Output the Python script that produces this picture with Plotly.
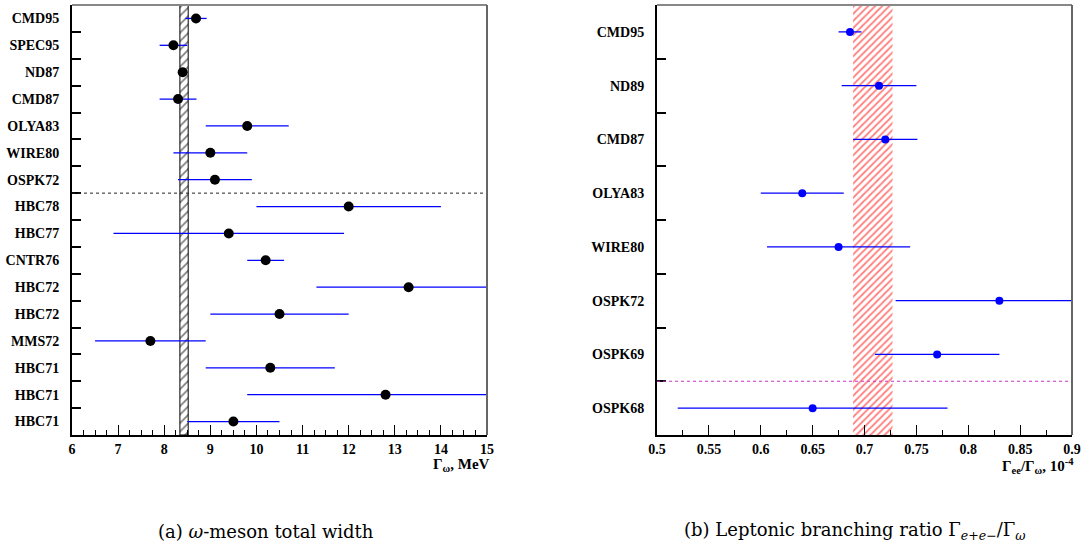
import plotly.graph_objects as go

# ---------------- data ----------------
left_labels = ["CMD95", "SPEC95", "ND87", "CMD87", "OLYA83", "WIRE80", "OSPK72",
               "HBC78", "HBC77", "CNTR76", "HBC72", "HBC72", "MMS72",
               "HBC71", "HBC71", "HBC71"]
left_values = [8.69, 8.2, 8.4, 8.3, 9.8, 9.0, 9.1, 12.0, 9.4, 10.2, 13.3, 10.5, 7.7, 10.3, 12.8, 9.5]
left_errors = [0.23, 0.3, 0.1, 0.4, 0.9, 0.8, 0.8, 2.0, 2.5, 0.4, 2.0, 1.5, 1.2, 1.4, 3.0, 1.0]
left_band = [8.34, 8.52]          # world average band (MeV)
left_separator_after = 6          # dashed line after OSPK72

right_labels = ["CMD95", "ND89", "CMD87", "OLYA83", "WIRE80", "OSPK72", "OSPK69", "OSPK68"]
right_values = [0.686, 0.714, 0.72, 0.64, 0.675, 0.83, 0.77, 0.65]
right_errors = [0.011, 0.036, 0.031, 0.04, 0.069, 0.1, 0.06, 0.13]
right_band = [0.689, 0.727]
right_separator_after = 6         # dashed line after OSPK69

W, H = 1081, 546
def px_x(p): return p / W
def px_y(p): return 1 - p / H

SERIF = "'Liberation Serif', 'Times New Roman', serif"

fig = go.Figure()

nL = len(left_labels)
nR = len(right_labels)
yL = list(range(nL))
yR = list(range(nR))

# bands
fig.add_trace(go.Scatter(
    x=[left_band[0], left_band[1], left_band[1], left_band[0], left_band[0]],
    y=[-0.5, -0.5, nL - 0.5, nL - 0.5, -0.5],
    fill="toself", mode="lines",
    line=dict(color="black", width=1),
    fillcolor="white",
    fillpattern=dict(shape="/", fgcolor="black", bgcolor="white", size=6, solidity=0.3),
    xaxis="x", yaxis="y", showlegend=False, hoverinfo="skip"))
fig.add_trace(go.Scatter(
    x=[right_band[0], right_band[1], right_band[1], right_band[0], right_band[0]],
    y=[-0.5, -0.5, nR - 0.5, nR - 0.5, -0.5],
    fill="toself", mode="lines",
    line=dict(color="red", width=0),
    fillcolor="white",
    fillpattern=dict(shape="/", fgcolor="red", bgcolor="white", size=5, solidity=0.35),
    xaxis="x2", yaxis="y2", showlegend=False, hoverinfo="skip"))

# data points
fig.add_trace(go.Scatter(
    x=left_values, y=yL, mode="markers",
    marker=dict(color="black", size=10),
    error_x=dict(type="data", array=left_errors, color="blue", thickness=1.3, width=0),
    xaxis="x", yaxis="y", showlegend=False))
fig.add_trace(go.Scatter(
    x=right_values, y=yR, mode="markers",
    marker=dict(color="blue", size=8),
    error_x=dict(type="data", array=right_errors, color="blue", thickness=1.3, width=0),
    xaxis="x2", yaxis="y2", showlegend=False))

# separators
fig.add_shape(type="line", xref="x domain", yref="y", x0=0, x1=1,
              y0=left_separator_after + 0.5, y1=left_separator_after + 0.5,
              line=dict(color="#222222", width=1, dash="3px,3px"))
fig.add_shape(type="line", xref="x2 domain", yref="y2", x0=0, x1=1,
              y0=right_separator_after + 0.5, y1=right_separator_after + 0.5,
              line=dict(color="#cc33cc", width=1, dash="3px,3px"))

# top/right frame lines (gray)
for xr, yr in (("x domain", "y domain"), ("x2 domain", "y2 domain")):
    fig.add_shape(type="line", xref=xr, yref=yr, x0=0, x1=1, y0=1, y1=1,
                  line=dict(color="#888888", width=2))
    fig.add_shape(type="line", xref=xr, yref=yr, x0=1, x1=1, y0=0, y1=1,
                  line=dict(color="#666666", width=2))

tickfont = dict(family=SERIF, size=14, color="black", weight="bold")
ydom = [px_y(435), px_y(5)]

common_x = dict(showgrid=False, zeroline=False, showline=True, linecolor="black",
                linewidth=2, ticks="inside", ticklen=10, tickwidth=1, tickcolor="black",
                tickfont=tickfont, mirror=False, automargin=False)
common_y = dict(showgrid=False, zeroline=False, showline=True, linecolor="black",
                linewidth=2, ticks="", tickfont=tickfont, ticklabelstandoff=8,
                automargin=False)

fig.update_layout(
    width=W, height=H, margin=dict(l=0, r=0, t=0, b=0),
    paper_bgcolor="white", plot_bgcolor="white",
    xaxis=dict(domain=[px_x(72), px_x(487)], range=[6, 15], anchor="y",
               tickmode="linear", tick0=6, dtick=1,
               minor=dict(tickmode="linear", tick0=6, dtick=0.25, ticks="inside",
                          ticklen=5, tickwidth=1, tickcolor="black", showgrid=False),
               **common_x),
    yaxis=dict(domain=ydom, range=[nL - 0.5, -0.5], anchor="x",
               tickmode="array", tickvals=yL, ticktext=left_labels,
               minor=dict(tickmode="array", tickvals=[i + 0.5 for i in range(nL - 1)],
                          ticks="inside", ticklen=9, tickwidth=1.5, tickcolor="black",
                          showgrid=False),
               **common_y),
    xaxis2=dict(domain=[px_x(657), px_x(1072)], range=[0.5, 0.9], anchor="y2",
                tickmode="linear", tick0=0.5, dtick=0.05,
                minor=dict(tickmode="linear", tick0=0.5, dtick=0.025, ticks="inside",
                           ticklen=5, tickwidth=1, tickcolor="black", showgrid=False),
                **common_x),
    yaxis2=dict(domain=ydom, range=[nR - 0.5, -0.5], anchor="x2",
                tickmode="array", tickvals=yR, ticktext=right_labels,
                minor=dict(tickmode="array", tickvals=[i + 0.5 for i in range(nR - 1)],
                           ticks="inside", ticklen=9, tickwidth=1.5, tickcolor="black",
                           showgrid=False),
                **common_y),
)

titlefont = dict(family=SERIF, size=15, color="black", weight="bold")
fig.add_annotation(text="Γ<sub>ω</sub>, MeV", xref="paper", yref="paper",
                   x=px_x(492), y=px_y(465), xanchor="right", yanchor="middle",
                   showarrow=False, font=titlefont)
fig.add_annotation(text="Γ<sub>ee</sub>/Γ<sub>ω</sub>, 10<sup>-4</sup>", xref="paper", yref="paper",
                   x=px_x(1076), y=px_y(466), xanchor="right", yanchor="middle",
                   showarrow=False, font=titlefont)

capfont = dict(family="'DejaVu Serif', serif", size=18, color="black")
fig.add_annotation(text="(a) <i>ω</i>-meson total width", xref="paper", yref="paper",
                   x=px_x(266), y=px_y(531), xanchor="center", yanchor="middle",
                   showarrow=False, font=capfont)
fig.add_annotation(text="(b) Leptonic branching ratio Γ<sub><i>e</i>+<i>e</i>−</sub>/Γ<sub><i>ω</i></sub>",
                   xref="paper", yref="paper",
                   x=px_x(855), y=px_y(531), xanchor="center", yanchor="middle",
                   showarrow=False, font=capfont)

fig.write_html("out.html", config={"displayModeBar": False},
               post_script="document.body.style.margin='0';document.body.style.overflow='hidden';")
